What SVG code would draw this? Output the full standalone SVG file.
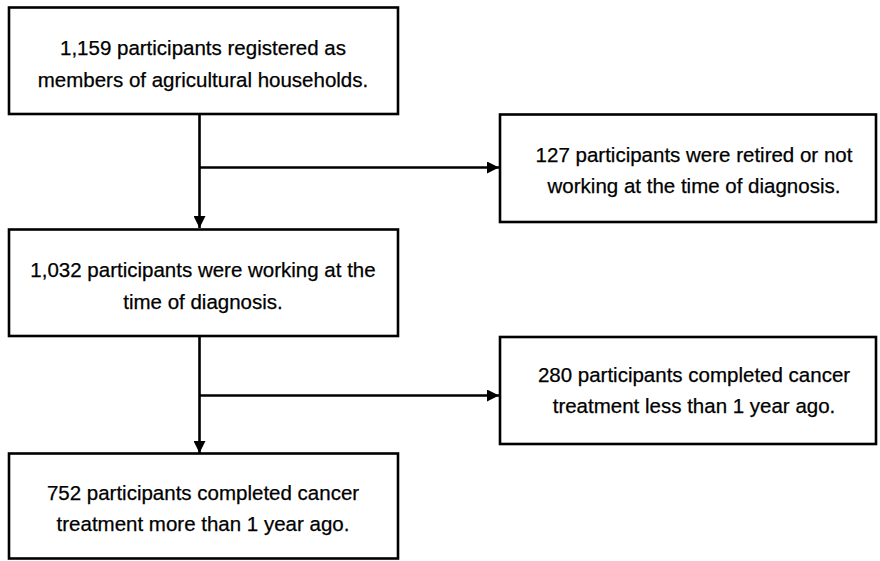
<svg xmlns="http://www.w3.org/2000/svg" width="880" height="561" viewBox="0 0 880 561">
<style>
.box{fill:#fff;stroke:#000;stroke-width:2.6}
.t{font-family:"Liberation Sans",Arial,sans-serif;font-size:20.5px;fill:#000;stroke:#000;stroke-width:0.25;text-anchor:middle}
.c{fill:none;stroke:#000;stroke-width:2.6}
</style>
<defs>
<marker id="ah" viewBox="0 0 12 12" refX="12" refY="6" markerWidth="12" markerHeight="12" markerUnits="userSpaceOnUse" orient="auto">
<path d="M0,0 L12,6 L0,12 Z" fill="#000"/>
</marker>
</defs>
<rect width="880" height="561" fill="#fff"/>
<g id="connectors">
<path class="c" d="M199.5,114 V228" marker-end="url(#ah)"/>
<path class="c" d="M199.5,167.5 H499" marker-end="url(#ah)"/>
<path class="c" d="M199.5,336 V453" marker-end="url(#ah)"/>
<path class="c" d="M199.5,395.5 H499" marker-end="url(#ah)"/>
</g>
<g id="n1">
<rect class="box" x="9" y="7.5" width="389" height="106.5"/>
<text class="t" x="203" y="55">1,159 participants registered as</text>
<text class="t" x="203" y="87">members of agricultural households.</text>
</g>
<g id="n2">
<rect class="box" x="500" y="114.5" width="376" height="107.5"/>
<text class="t" x="694" y="162">127 participants were retired or not</text>
<text class="t" x="694" y="193">working at the time of diagnosis.</text>
</g>
<g id="n3">
<rect class="box" x="9" y="229.5" width="389" height="106.5"/>
<text class="t" x="203" y="277">1,032 participants were working at the</text>
<text class="t" x="203" y="309">time of diagnosis.</text>
</g>
<g id="n4">
<rect class="box" x="500" y="337" width="376" height="107"/>
<text class="t" x="694" y="382">280 participants completed cancer</text>
<text class="t" x="694" y="413">treatment less than 1 year ago.</text>
</g>
<g id="n5">
<rect class="box" x="9" y="453.5" width="389" height="105"/>
<text class="t" x="203" y="500">752 participants completed cancer</text>
<text class="t" x="203" y="531">treatment more than 1 year ago.</text>
</g>
</svg>
